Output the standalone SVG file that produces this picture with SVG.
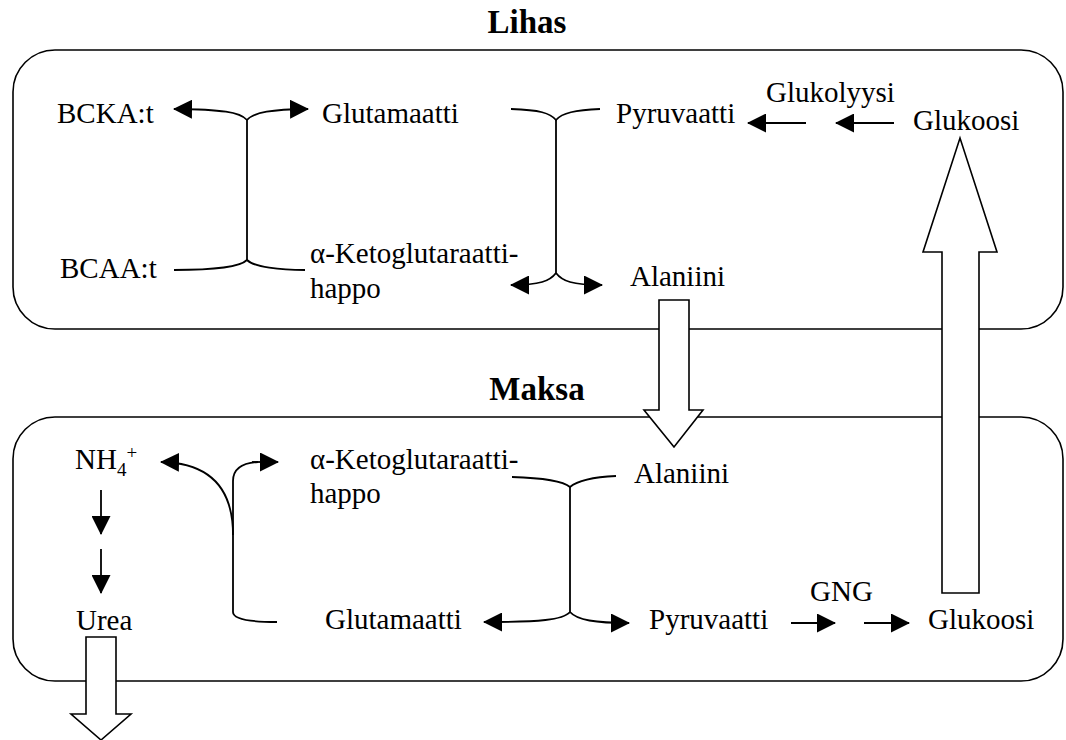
<svg xmlns="http://www.w3.org/2000/svg" width="1066" height="740" viewBox="0 0 1066 740">
  <style>
    text { font-family: "Liberation Serif", "Times New Roman", "DejaVu Serif", serif; fill: #000; }
    .lbl { font-size: 29px; font-weight: normal; font-style: normal; }
    .ttl { font-size: 33px; font-weight: bold; }
    .box { fill: #fff; stroke: #000; stroke-width: 1.6; }
    .ln { fill: none; stroke: #000; stroke-width: 1.8; }
    .arr { fill: none; stroke: #000; stroke-width: 1.8; marker-end: url(#ah); }
    .big { fill: #fff; stroke: #000; stroke-width: 1.6; stroke-linejoin: miter; }
  </style>
  <defs>
    <marker id="ah" viewBox="0 0 19 19" refX="18" refY="9.5" markerWidth="19" markerHeight="19" markerUnits="userSpaceOnUse" orient="auto">
      <path d="M0,0 L19,9.5 L0,19 z" fill="#000"/>
    </marker>
  </defs>
  <rect width="1066" height="740" fill="#fff"/>

  <!-- compartments -->
  <g id="lihas">
    <text class="ttl" x="527" y="33" text-anchor="middle">Lihas</text>
    <rect class="box" x="13" y="50" width="1050" height="279" rx="42" ry="42"/>
  </g>
  <g id="maksa">
    <text class="ttl" x="537" y="400" text-anchor="middle">Maksa</text>
    <rect class="box" x="13" y="417" width="1050" height="264" rx="42" ry="42"/>
  </g>

  <!-- muscle metabolites -->
  <g id="m-bcka"><text class="lbl" x="57" y="123">BCKA:t</text></g>
  <g id="m-glutamaatti"><text class="lbl" x="322" y="123">Glutamaatti</text></g>
  <g id="m-bcaa"><text class="lbl" x="60" y="278">BCAA:t</text></g>
  <g id="m-akg"><text class="lbl" x="310" y="263">α-Ketoglutaraatti-</text><text class="lbl" x="310" y="298">happo</text></g>
  <g id="m-pyruvaatti"><text class="lbl" x="616" y="123">Pyruvaatti</text></g>
  <g id="m-glukolyysi"><text class="lbl" x="766" y="102">Glukolyysi</text></g>
  <g id="m-glukoosi"><text class="lbl" x="913" y="130">Glukoosi</text></g>
  <g id="m-alaniini"><text class="lbl" x="630" y="286">Alaniini</text></g>

  <!-- liver metabolites -->
  <g id="l-nh4"><text class="lbl" x="75" y="469">NH<tspan font-size="19" dy="7">4</tspan><tspan font-size="19" dy="-17">+</tspan></text></g>
  <g id="l-akg"><text class="lbl" x="310" y="469">α-Ketoglutaraatti-</text><text class="lbl" x="310" y="503">happo</text></g>
  <g id="l-alaniini"><text class="lbl" x="634" y="483">Alaniini</text></g>
  <g id="l-urea"><text class="lbl" x="76" y="630">Urea</text></g>
  <g id="l-glutamaatti"><text class="lbl" x="325" y="629">Glutamaatti</text></g>
  <g id="l-pyruvaatti"><text class="lbl" x="649" y="629">Pyruvaatti</text></g>
  <g id="l-gng"><text class="lbl" x="810" y="601">GNG</text></g>
  <g id="l-glukoosi"><text class="lbl" x="928" y="629">Glukoosi</text></g>

  <g id="connectors">
    <!-- muscle: BCAA transamination -->
    <path class="ln" d="M247,120 L247,260"/>
    <path class="arr" d="M247,120 C240,112 222,109.5 174,109"/>
    <path class="arr" d="M247,120 C254,112 272,109.5 308,109"/>
    <path class="ln" d="M174,270 C215,270 240,267 247,260 C254,267 280,270 305,270"/>

    <!-- muscle: pyruvate -> alanine transamination -->
    <path class="ln" d="M511,109 C540,110 550,113 556,120 C562,113 575,110 600,109"/>
    <path class="ln" d="M556,120 L556,273"/>
    <path class="arr" d="M556,273 C550,281 540,285 511,285"/>
    <path class="arr" d="M556,273 C562,281 572,285 602,285"/>

    <!-- glycolysis -->
    <path class="arr" d="M806,123 L748,123"/>
    <path class="arr" d="M894,123 L836,123"/>

    <!-- liver: glutamate deamination -->
    <path class="arr" d="M233,535 C233,492 214,463 161,462"/>
    <path class="ln" d="M233,612 L233,481 C233,470 240,463 258,462"/>
    <path class="arr" d="M252,462 L278,462"/>
    <path class="ln" d="M233,612 C233,618 245,622 277,622"/>

    <!-- liver: alanine transamination -->
    <path class="ln" d="M512,477 C545,478 563,481 570,487 C577,481 595,477 616,476"/>
    <path class="ln" d="M570,487 L570,612"/>
    <path class="arr" d="M570,612 C563,620 540,622 484,622"/>
    <path class="arr" d="M570,612 C577,620 595,623 629,623"/>

    <!-- urea cycle -->
    <path class="arr" d="M101,490 L101,534"/>
    <path class="arr" d="M101,549 L101,593"/>

    <!-- gluconeogenesis -->
    <path class="arr" d="M791,623 L835,623"/>
    <path class="arr" d="M864,623 L909,623"/>

    <!-- transport between tissues -->
    <polygon class="big" points="659,300 689,300 689,410 703,410 674,447 644,410 659,410"/>
    <polygon class="big" points="942,593 979,593 979,252 997,252 960,138 923,252 942,252"/>
    <polygon class="big" points="86,637 116,637 116,714 131,714 101,740 71,714 86,714"/>
  </g>
</svg>
